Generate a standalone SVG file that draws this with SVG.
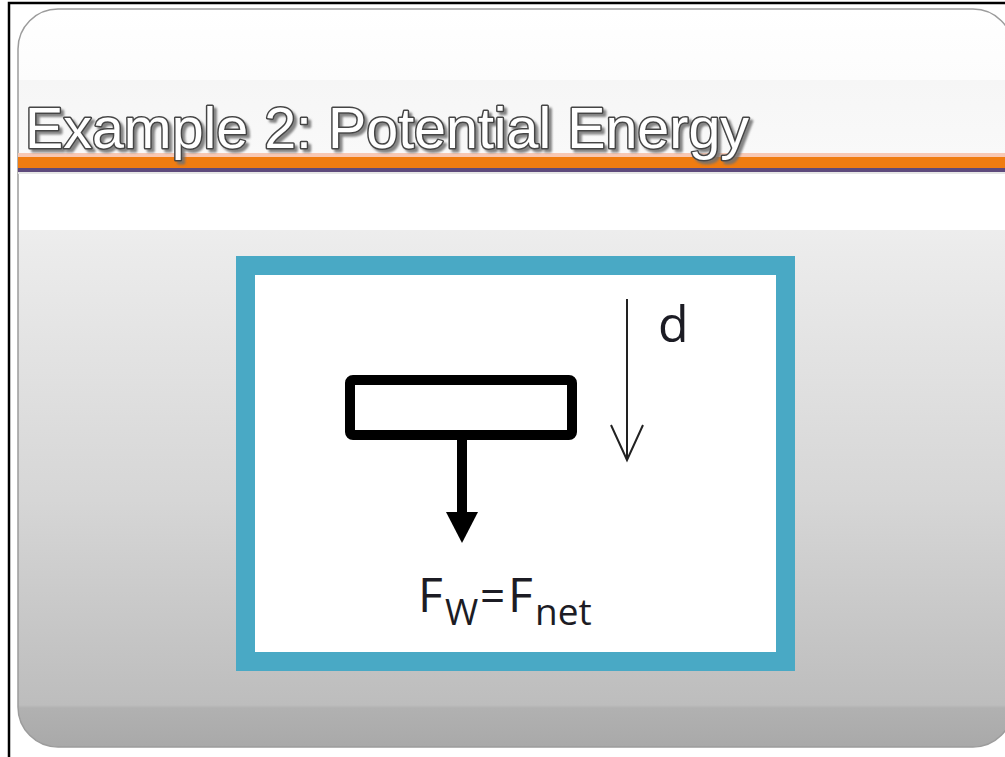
<svg xmlns="http://www.w3.org/2000/svg" width="1005" height="757" viewBox="0 0 1005 757">
  <defs>
    <linearGradient id="slideBg" gradientUnits="userSpaceOnUse" x1="0" y1="9" x2="0" y2="747">
      <stop offset="0" stop-color="#ffffff"/>
      <stop offset="0.0962" stop-color="#fcfcfc"/>
      <stop offset="0.0962" stop-color="#f6f6f6"/>
      <stop offset="0.1978" stop-color="#f9f9f9"/>
      <stop offset="0.2209" stop-color="#ffffff"/>
      <stop offset="0.2995" stop-color="#ffffff"/>
      <stop offset="0.2995" stop-color="#ededed"/>
      <stop offset="0.6653" stop-color="#d6d6d6"/>
      <stop offset="0.9431" stop-color="#bdbdbd"/>
      <stop offset="0.9472" stop-color="#b1b1b1"/>
      <stop offset="1" stop-color="#a9a9a9"/>
    </linearGradient>
    <filter id="titleShadow" x="-5%" y="-30%" width="110%" height="160%">
      <feDropShadow dx="3" dy="3" stdDeviation="1.2" flood-color="#707070" flood-opacity="0.85"/>
    </filter>
    <marker id="headSolid" markerUnits="userSpaceOnUse" viewBox="0 0 31 32" refX="0" refY="16" markerWidth="31" markerHeight="32" orient="auto" overflow="visible">
      <path d="M0,0 L31,16 L0,32 Z" fill="#000"/>
    </marker>
    <marker id="headOpen" markerUnits="userSpaceOnUse" viewBox="0 0 35 32" refX="35" refY="16" markerWidth="35" markerHeight="32" orient="auto" overflow="visible">
      <path d="M0,0 L35,16 L0,32" fill="none" stroke="#222" stroke-width="2"/>
    </marker>
  </defs>
  <style>
    .title { font-family: "Liberation Sans", Arial, sans-serif; font-size: 57px; }
    .label { font-family: "Open Sans", "Noto Sans", "DejaVu Sans", sans-serif; fill: #1c1c24; }
  </style>

  <rect x="0" y="0" width="1005" height="757" fill="#ffffff"/>
  <!-- outer black frame lines -->
  <path d="M9,757 L9,3 L1005,3" fill="none" stroke="#000" stroke-width="2.5"/>

  <!-- slide -->
  <rect x="18" y="9" width="995" height="738" rx="40" ry="40" fill="url(#slideBg)" stroke="#9c9c9c" stroke-width="1.5"/>

  <!-- title bar -->
  <g id="title-bar">
    <rect x="18" y="153" width="990" height="4" fill="#f8c8b4"/>
    <rect x="18" y="157" width="990" height="11" fill="#f07c10"/>
    <rect x="18" y="168" width="990" height="4" fill="#5e4a7c"/>
    <rect x="18" y="172" width="990" height="2" fill="#e6e6e6"/>
  </g>

  <g id="title" filter="url(#titleShadow)">
    <text class="title" x="25" y="148" textLength="724" lengthAdjust="spacingAndGlyphs" fill="#ffffff" stroke="#454545" stroke-width="3" stroke-linejoin="round" paint-order="stroke">Example 2: Potential Energy</text>
  </g>

  <!-- picture frame -->
  <g id="frame">
    <rect x="245.5" y="265.5" width="540" height="396" fill="#ffffff" stroke="#49a9c5" stroke-width="19"/>
  </g>

  <!-- block -->
  <g id="block">
    <rect x="350" y="380" width="222" height="55" rx="3" ry="3" fill="#ffffff" stroke="#000" stroke-width="10"/>
  </g>

  <g id="connectors">
    <line id="force-arrow" x1="462" y1="440" x2="462" y2="512" stroke="#000" stroke-width="10" marker-end="url(#headSolid)"/>
    <line id="displacement-arrow" x1="627" y1="299" x2="627" y2="460" stroke="#222" stroke-width="2" marker-end="url(#headOpen)"/>
  </g>

  <g id="label-d">
    <text class="label" x="658" y="342" font-size="50">d</text>
  </g>

  <g id="label-force">
    <text class="label" font-size="48"><tspan x="418" y="612">F</tspan><tspan x="445" y="625" font-size="36">W</tspan><tspan x="480" y="612" font-size="44">=</tspan><tspan x="508" y="612">F</tspan><tspan x="535" y="625" font-size="37">net</tspan></text>
  </g>
</svg>
